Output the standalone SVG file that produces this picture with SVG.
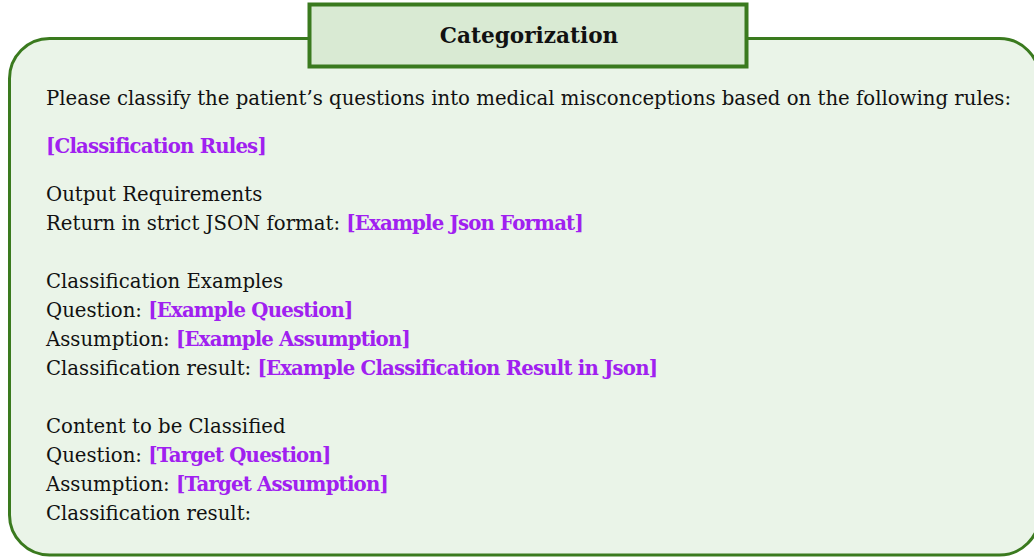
<svg xmlns="http://www.w3.org/2000/svg" width="1034" height="558" viewBox="0 0 1034 558">
<style>
.t{font-family:"DejaVu Serif","Liberation Serif",serif;font-size:19.7px;fill:#111}
.p{fill:#a020f0;font-weight:bold;letter-spacing:-0.8px}
.h{font-family:"DejaVu Serif","Liberation Serif",serif;font-size:21.6px;font-weight:bold;fill:#111}
</style>
<rect width="1034" height="558" fill="#ffffff"/>
<g id="panel">
<rect x="9.5" y="38.5" width="1030" height="516.5" rx="40" ry="40" fill="#eaf4e8" stroke="#3a7a1e" stroke-width="3"/>
</g>
<g id="title">
<rect x="309.5" y="4.5" width="437" height="62" fill="#d9ead3" stroke="#3a7a1e" stroke-width="4"/>
<text class="h" x="529" y="43" text-anchor="middle">Categorization</text>
</g>
<g id="body">
<text class="t" x="46" y="105">Please classify the patient’s questions into medical misconceptions based on the following rules:</text>
<text class="t" x="46" y="153"><tspan class="p">[Classification Rules]</tspan></text>
<text class="t" x="46" y="201">Output Requirements</text>
<text class="t" x="46" y="230">Return in strict JSON format: <tspan class="p">[Example Json Format]</tspan></text>
<text class="t" x="46" y="288">Classification Examples</text>
<text class="t" x="46" y="317">Question: <tspan class="p">[Example Question]</tspan></text>
<text class="t" x="46" y="346">Assumption: <tspan class="p">[Example Assumption]</tspan></text>
<text class="t" x="46" y="375">Classification result: <tspan class="p">[Example Classification Result in Json]</tspan></text>
<text class="t" x="46" y="433">Content to be Classified</text>
<text class="t" x="46" y="462">Question: <tspan class="p">[Target Question]</tspan></text>
<text class="t" x="46" y="491">Assumption: <tspan class="p">[Target Assumption]</tspan></text>
<text class="t" x="46" y="520">Classification result:</text>
</g>
</svg>
